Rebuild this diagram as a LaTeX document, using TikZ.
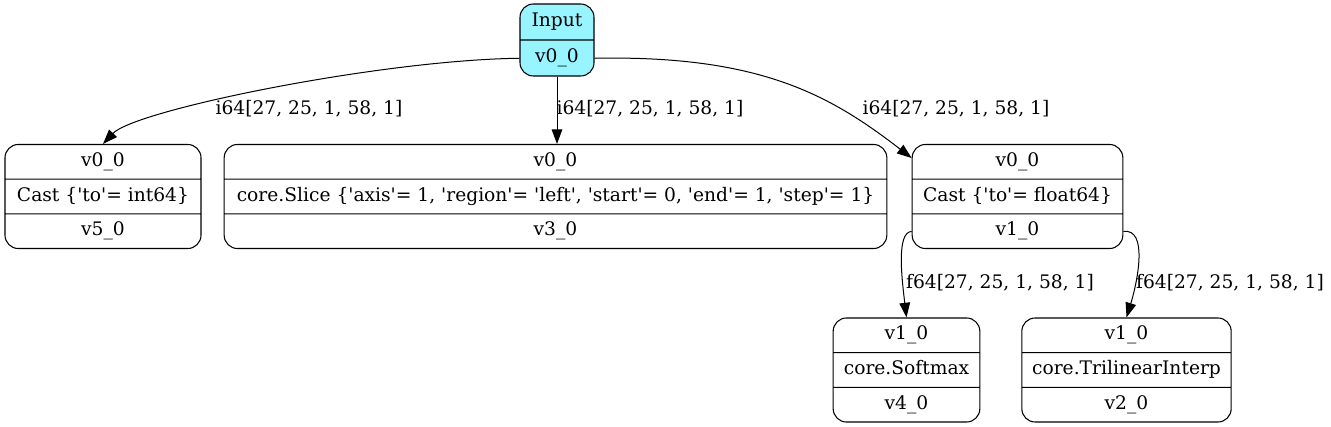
\documentclass[tikz,border=0pt]{standalone}
\usepackage{fontspec}
\setmainfont{DejaVu Serif}[Ligatures=TeXOff]
\usetikzlibrary{shapes.multipart,calc,arrows.meta}
\newcommand{\row}{\rule[-3.6pt]{0pt}{14.2pt}}
\definecolor{inputfill}{HTML}{98F5FF}
\begin{document}
\begin{tikzpicture}[x=0.75pt,y=-0.75pt,
    rec/.style={draw, line width=0.8pt, rounded corners=10pt, rectangle split,
      rectangle split parts=3, inner xsep=4pt, inner ysep=5.5pt,
      font=\fontsize{14pt}{16pt}\selectfont},
    lbl/.style={font=\fontsize{14pt}{16pt}\selectfont, inner sep=0pt},
    edge/.style={line width=0.75pt, -{Triangle[length=11pt,width=8pt]}}]
  \useasboundingbox (0,0) rectangle (1331,427);
  % records
  \node[rec, rectangle split parts=2, fill=inputfill, minimum width=55.5pt, inner ysep=6pt] (inp) at (557,40)
    {\row Input \nodepart{two}\row v0\_0};
  \node[rec, minimum width=147pt] (castA) at (103,196.5)
    {\row v0\_0 \nodepart{two}\row Cast \{'to'= int64\} \nodepart{three}\row v5\_0};
  \node[rec, minimum width=497pt] (slice) at (555.5,196.5)
    {\row v0\_0 \nodepart{two}\row core.Slice \{'axis'= 1, 'region'= 'left', 'start'= 0, 'end'= 1, 'step'= 1\} \nodepart{three}\row v3\_0};
  \node[rec, minimum width=158pt] (castB) at (1017.5,196.5)
    {\row v0\_0 \nodepart{two}\row Cast \{'to'= float64\} \nodepart{three}\row v1\_0};
  \node[rec, minimum width=110pt] (softmax) at (906.5,370)
    {\row v1\_0 \nodepart{two}\row core.Softmax \nodepart{three}\row v4\_0};
  \node[rec, minimum width=157pt] (trilin) at (1126.5,370)
    {\row v1\_0 \nodepart{two}\row core.TrilinearInterp \nodepart{three}\row v2\_0};
  % edges
  \draw[edge] ($(inp.text split west)!0.5!(inp.south west)$) .. controls (380,60) and (135,110) .. (castA.north);
  \draw[edge] (inp.south) -- (inp.south |- slice.north);
  \draw[edge] ($(inp.text split east)!0.5!(inp.south east)$) .. controls (760,55) and (830,95) .. ($(castB.north west)!0.4!(castB.text split west)$);
  \draw[edge] ($(castB.two split west)!0.5!(castB.south west)$) .. controls (896,232) and (902,280) .. (softmax.north);
  \draw[edge] ($(castB.two split east)!0.5!(castB.south east)$) .. controls (1148,228) and (1138,280) .. (trilin.north);
  % edge labels
  \node[lbl] (lA) at (309,109) {i64[27, 25, 1, 58, 1]};
  \node[lbl] (lS) at (650,109) {i64[27, 25, 1, 58, 1]};
  \node[lbl] (lB) at (956,109) {i64[27, 25, 1, 58, 1]};
  \node[lbl] (lSm) at (1000,283) {f64[27, 25, 1, 58, 1]};
  \node[lbl] (lTi) at (1230,283) {f64[27, 25, 1, 58, 1]};
\end{tikzpicture}
\end{document}
